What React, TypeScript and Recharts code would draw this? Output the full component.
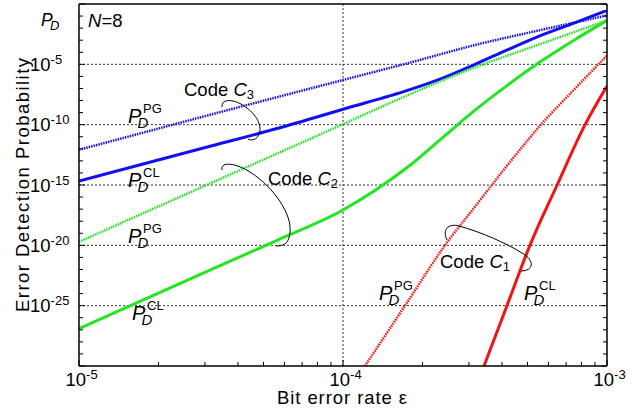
import React from "react";
import { LineChart, Line, XAxis, YAxis, ReferenceLine } from "recharts";

// all values are log10 exponents
const xMajor = [-5, -4, -3];
const xMinorMult = [2, 3, 4, 5, 6, 7, 8, 9];
const yMajor = [-25, -20, -15, -10, -5];
const yDecades = [-30, -29, -28, -27, -26, -25, -24, -23, -22, -21, -20, -19, -18, -17, -16, -15, -14, -13, -12, -11, -10, -9, -8, -7, -6, -5, -4, -3, -2, -1, 0];

const pgC3X = [-5, -4.75, -4.5, -4.25, -4, -3.75, -3.5, -3.25, -3];
const pgC3Y = [-12.08, -10.62, -9.16, -7.72, -6.3, -4.88, -3.4, -2.15, -0.95];

const clC3X = [-5, -4.75, -4.5, -4.25, -4, -3.75, -3.625, -3.5, -3.375, -3.25, -3.125, -3];
const clC3Y = [-14.67, -13.22, -11.77, -10.32, -8.72, -7.12, -6.16, -5.0, -3.78, -2.6, -1.58, -0.54];

const pgC2X = [-5, -4.75, -4.5, -4.25, -4, -3.75, -3.5, -3.25, -3];
const pgC2Y = [-19.71, -17.27, -14.84, -12.4, -9.96, -7.51, -5.25, -3.3, -1.36];

const clC2X = [-5, -4.75, -4.5, -4.25, -4, -3.875, -3.75, -3.625, -3.5, -3.375, -3.25, -3.125, -3];
const clC2Y = [-26.9, -24.46, -22.02, -19.58, -17.07, -15.4, -13.43, -11.12, -8.8, -6.7, -4.75, -3.0, -1.36];

const pgC1X = [-3.917, -3.75, -3.614, -3.5, -3.375, -3.25, -3.125, -3];
const pgC1Y = [-30, -24.5, -20, -16.8, -13.3, -10.0, -7.1, -4.26];

const clC1X = [-3.466, -3.379, -3.292, -3.189, -3.083, -3];
const clC1Y = [-30, -25, -20, -15, -10, -6.8];

const BLUE = "#1010f2";
const GREEN = "#22e622";
const RED = "#f01414";
const font = "'Liberation Sans', Arial, Helvetica, sans-serif";

const zip = (xs: number[], ys: number[]) => xs.map((x, i) => ({ x, y: ys[i] }));

const xTicks: number[] = [];
xMajor.forEach((d, i) => {
  xTicks.push(d);
  if (i < xMajor.length - 1) xMinorMult.forEach((m) => xTicks.push(d + Math.log10(m)));
});

const isMajorX = (v: number) => xMajor.some((m) => Math.abs(m - v) < 1e-6);
const isMajorY = (v: number) => v % 5 === 0;

function BottomTick(props: any) {
  const { x, y, payload } = props;
  const v = payload.value;
  const major = isMajorX(v);
  return (
    <g>
      <line x1={x} x2={x} y1={y} y2={y - (major ? 6 : 4)} stroke="#000" strokeWidth={1} />
      {major && (
        <text x={x - 13.5} y={y + 20} fontSize={18.5} fontFamily={font} fill="#000">
          10
          <tspan fontSize={13} dy={-7}>
            {v}
          </tspan>
        </text>
      )}
    </g>
  );
}

function TopTick(props: any) {
  const { x, y, payload } = props;
  const major = isMajorX(payload.value);
  return <line x1={x} x2={x} y1={y} y2={y + (major ? 6 : 4)} stroke="#000" strokeWidth={1} />;
}

function LeftTick(props: any) {
  const { x, y, payload } = props;
  const v = payload.value;
  const major = isMajorY(v);
  const label = major && v !== 0 && v !== -30;
  return (
    <g>
      <line x1={x} x2={x + (major ? 6 : 4)} y1={y} y2={y} stroke="#000" strokeWidth={1} />
      {label && (
        <text x={x - 49} y={y + 6.5} fontSize={18.5} fontFamily={font} fill="#000">
          10
          <tspan fontSize={13} dy={-7}>
            {v}
          </tspan>
        </text>
      )}
    </g>
  );
}

function RightTick(props: any) {
  const { x, y, payload } = props;
  const major = isMajorY(payload.value);
  return <line x1={x} x2={x - (major ? 6 : 4)} y1={y} y2={y} stroke="#000" strokeWidth={1} />;
}

function PD({ x, y, sup }: { x: number; y: number; sup: string }) {
  return (
    <text x={x} y={y} fontFamily={font} fill="#000" fontSize={20}>
      <tspan fontStyle="italic">P</tspan>
      <tspan x={x + 9.5} y={y + 5} fontSize={15} fontStyle="italic">D</tspan>
      <tspan x={x + 15} y={y - 10} fontSize={13}>{sup}</tspan>
    </text>
  );
}

function CodeLabel({ x, y, n }: { x: number; y: number; n: string }) {
  return (
    <text x={x} y={y} fontSize={18.5} fontFamily={font} fill="#000">
      Code <tspan fontStyle="italic">C</tspan>
      <tspan fontSize={13} dy={3}>{n}</tspan>
    </text>
  );
}

export default function App() {
  return (
    <div style={{ position: "absolute", left: 0, top: 0, width: 632, height: 411, background: "#fff" }}>
      <LineChart width={632} height={411} margin={{ top: 0, right: 0, bottom: 0, left: 0 }}>
        <XAxis
          xAxisId="b"
          dataKey="x"
          type="number"
          domain={[-5, -3]}
          ticks={xTicks}
          interval={0}
          allowDataOverflow
          height={45}
          tickSize={0}
          tickMargin={0}
          tickLine={false}
          axisLine={{ stroke: "#000", strokeWidth: 1.5 }}
          tick={<BottomTick />}
        />
        <XAxis
          xAxisId="t"
          orientation="top"
          type="number"
          domain={[-5, -3]}
          ticks={xTicks}
          interval={0}
          allowDataOverflow
          height={4}
          tickSize={0}
          tickMargin={0}
          tickLine={false}
          axisLine={{ stroke: "#000", strokeWidth: 1.5 }}
          tick={<TopTick />}
        />
        <YAxis
          yAxisId="l"
          dataKey="y"
          type="number"
          domain={[-30, 0]}
          ticks={yDecades}
          interval={0}
          allowDataOverflow
          width={79}
          tickSize={0}
          tickMargin={0}
          tickLine={false}
          axisLine={{ stroke: "#000", strokeWidth: 1.5 }}
          tick={<LeftTick />}
        />
        <YAxis
          yAxisId="r"
          orientation="right"
          type="number"
          domain={[-30, 0]}
          ticks={yDecades}
          interval={0}
          allowDataOverflow
          width={25}
          tickSize={0}
          tickMargin={0}
          tickLine={false}
          axisLine={{ stroke: "#000", strokeWidth: 1.5 }}
          tick={<RightTick />}
        />
        {yMajor.map((v) => (
          <ReferenceLine key={v} y={v} xAxisId="b" yAxisId="l" stroke="#333" strokeDasharray="2 2" strokeWidth={1} />
        ))}
        <ReferenceLine x={-4} xAxisId="b" yAxisId="l" stroke="#333" strokeDasharray="2 2" strokeWidth={1} />

        <Line xAxisId="b" yAxisId="l" data={zip(pgC3X, pgC3Y)} dataKey="y" type="monotone" stroke={BLUE} strokeWidth={2.5} strokeDasharray="1.5 1" dot={false} isAnimationActive={false} />
        <Line xAxisId="b" yAxisId="l" data={zip(clC3X, clC3Y)} dataKey="y" type="monotone" stroke={BLUE} strokeWidth={3} dot={false} isAnimationActive={false} />
        <Line xAxisId="b" yAxisId="l" data={zip(pgC2X, pgC2Y)} dataKey="y" type="monotone" stroke={GREEN} strokeWidth={2.5} strokeDasharray="1.5 1" dot={false} isAnimationActive={false} />
        <Line xAxisId="b" yAxisId="l" data={zip(clC2X, clC2Y)} dataKey="y" type="monotone" stroke={GREEN} strokeWidth={3} dot={false} isAnimationActive={false} />
        <Line xAxisId="b" yAxisId="l" data={zip(pgC1X, pgC1Y)} dataKey="y" type="monotone" stroke={RED} strokeWidth={2.5} strokeDasharray="1.5 1" dot={false} isAnimationActive={false} />
        <Line xAxisId="b" yAxisId="l" data={zip(clC1X, clC1Y)} dataKey="y" type="monotone" stroke={RED} strokeWidth={3} dot={false} isAnimationActive={false} />
      </LineChart>

      <svg width={632} height={411} style={{ position: "absolute", left: 0, top: 0, pointerEvents: "none" }}>
        <g fontFamily={font} fill="#000">
          <text x={41} y={26} fontSize={17.5} fontStyle="italic">
            P<tspan x={50} y={30} fontSize={13}>D</tspan>
          </text>
          <text x={88} y={27} fontSize={18.5}>
            <tspan fontStyle="italic">N</tspan>=8
          </text>
          <text x={342} y={404} fontSize={18.5} textAnchor="middle" textLength={130}>
            Bit error rate ε
          </text>
          <text x={29} y={185} fontSize={18.5} textAnchor="middle" textLength={254} transform="rotate(-90 29 185)">
            Error Detection Probability
          </text>
        </g>
        <CodeLabel x={184} y={96} n="3" />
        <CodeLabel x={268} y={185} n="2" />
        <CodeLabel x={440} y={268} n="1" />
        <PD x={128} y={123} sup="PG" />
        <PD x={128} y={187} sup="CL" />
        <PD x={128} y={243} sup="PG" />
        <PD x={132} y={320} sup="CL" />
        <PD x={379} y={300} sup="PG" />
        <PD x={524} y={300} sup="CL" />
        <g fill="none" stroke="#000" strokeWidth={1}>
          <path d="M 222 107 C 221 99, 232 99, 241 104 C 255 112, 263 125, 259 134 C 257 140, 251 141, 248 139" />
          <path d="M 222 170 C 220 161, 236 163, 250 172 C 275 188, 292 215, 290 232 C 289 243, 285 246, 276 246" />
          <path d="M 447 240 C 442 230, 448 223, 459 226 C 481 232, 506 243, 522 253 C 536 261, 533 271, 521 271" />
        </g>
      </svg>
    </div>
  );
}
